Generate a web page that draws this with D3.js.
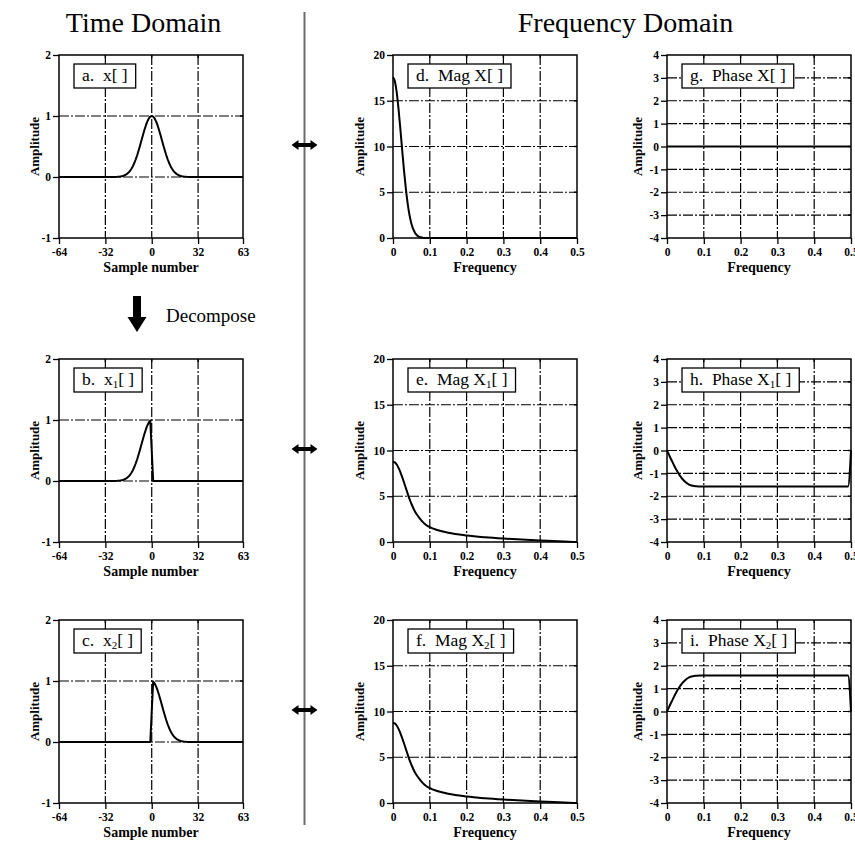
<!DOCTYPE html>
<html>
<head>
<meta charset="utf-8">
<script src="https://cdn.jsdelivr.net/npm/d3@7"></script>
<style>
  body { margin: 0; background: #fff; }
  svg { display: block; }
  text { font-family: "Liberation Serif", "Times New Roman", serif; fill: #000; }
</style>
</head>
<body>
<svg id="fig" width="855" height="853"></svg>
<script>
// ---- time domain: sample indices and signals (zero outside the listed support) ----
const sampleN = [-64,
  -25, -24, -23, -22, -21, -20, -19, -18, -17, -16, -15, -14, -13, -12, -11, -10, -9, -8, -7, -6, -5, -4, -3, -2, -1,
  0,
  1, 2, 3, 4, 5, 6, 7, 8, 9, 10, 11, 12, 13, 14, 15, 16, 17, 18, 19, 20, 21, 22, 23, 24, 25,
  63];

const xSignal = [0,
  0.002, 0.003, 0.005, 0.007, 0.011, 0.017, 0.025, 0.037, 0.052, 0.073, 0.101, 0.135, 0.178, 0.230, 0.291, 0.360, 0.438, 0.520, 0.607, 0.693, 0.775, 0.849, 0.912, 0.960, 0.990,
  1,
  0.990, 0.960, 0.912, 0.849, 0.775, 0.693, 0.607, 0.520, 0.438, 0.360, 0.291, 0.230, 0.178, 0.135, 0.101, 0.073, 0.052, 0.037, 0.025, 0.017, 0.011, 0.007, 0.005, 0.003, 0.002,
  0];

const x1Signal = [0,
  0.002, 0.003, 0.005, 0.007, 0.011, 0.017, 0.025, 0.037, 0.052, 0.073, 0.101, 0.135, 0.178, 0.230, 0.291, 0.360, 0.438, 0.520, 0.607, 0.693, 0.775, 0.849, 0.912, 0.960, 0.990,
  0.5,
  0, 0, 0, 0, 0, 0, 0, 0, 0, 0, 0, 0, 0, 0, 0, 0, 0, 0, 0, 0, 0, 0, 0, 0, 0,
  0];

const x2Signal = [0,
  0, 0, 0, 0, 0, 0, 0, 0, 0, 0, 0, 0, 0, 0, 0, 0, 0, 0, 0, 0, 0, 0, 0, 0, 0,
  0.5,
  0.990, 0.960, 0.912, 0.849, 0.775, 0.693, 0.607, 0.520, 0.438, 0.360, 0.291, 0.230, 0.178, 0.135, 0.101, 0.073, 0.052, 0.037, 0.025, 0.017, 0.011, 0.007, 0.005, 0.003, 0.002,
  0];

// ---- frequency domain: magnitude and phase ----
const freq = [0, 0.005, 0.01, 0.015, 0.02, 0.025, 0.03, 0.035, 0.04, 0.045, 0.05, 0.06, 0.07, 0.08, 0.09,
  0.1, 0.12, 0.15, 0.2, 0.25, 0.3, 0.35, 0.4, 0.45, 0.492, 0.5];

const magX = [17.55, 17.13, 15.93, 14.11, 11.92, 9.59, 7.35, 5.37, 3.73, 2.47, 1.56, 0.54, 0.15, 0.04, 0.01,
  0, 0, 0, 0, 0, 0, 0, 0, 0, 0, 0];
const magX1 = [8.78, 8.70, 8.47, 8.10, 7.64, 7.09, 6.50, 5.89, 5.28, 4.68, 4.18, 3.31, 2.72, 2.22, 1.85,
  1.62, 1.31, 1.00, 0.70, 0.51, 0.37, 0.26, 0.16, 0.08, 0.01, 0];
const magX2 = [8.78, 8.70, 8.47, 8.10, 7.64, 7.09, 6.50, 5.89, 5.28, 4.68, 4.18, 3.31, 2.72, 2.22, 1.85,
  1.62, 1.31, 1.00, 0.70, 0.51, 0.37, 0.26, 0.16, 0.08, 0.01, 0];

const phaseX = [0, 0, 0, 0, 0, 0, 0, 0, 0, 0, 0, 0, 0, 0, 0,
  0, 0, 0, 0, 0, 0, 0, 0, 0, 0, 0];
const phaseX1 = [0, -0.17, -0.35, -0.51, -0.68, -0.83, -0.97, -1.10, -1.21, -1.30, -1.38, -1.49, -1.54, -1.56, -1.57,
  -1.57, -1.57, -1.57, -1.57, -1.57, -1.57, -1.57, -1.57, -1.57, -1.57, 0];
const phaseX2 = [0, 0.17, 0.35, 0.51, 0.68, 0.83, 0.97, 1.10, 1.21, 1.30, 1.38, 1.49, 1.54, 1.56, 1.57,
  1.57, 1.57, 1.57, 1.57, 1.57, 1.57, 1.57, 1.57, 1.57, 1.57, 0];

// ---- tick values ----
const timeTicksX = [-64, -32, 0, 32, 63];
const timeTicksY = [-1, 0, 1, 2];
const freqTicksX = [0, 0.1, 0.2, 0.3, 0.4, 0.5];
const magTicksY = [0, 5, 10, 15, 20];
const phaseTicksY = [-4, -3, -2, -1, 0, 1, 2, 3, 4];

// ---- layout ----
const W = 184, H = 183;
const colLeft = [59, 393, 667];
const rowTop = [55, 359, 620];
const ylabelOffset = [20, 29, 25];

const svg = d3.select("#fig");

const kinds = {
  time:  { x: d3.scaleLinear().domain([-64, 63]).range([0, W]), xt: timeTicksX,
           y: d3.scaleLinear().domain([-1, 2]).range([H, 0]), yt: timeTicksY,
           xfmt: d => String(d), xlabel: "Sample number", curve: d3.curveLinear },
  mag:   { x: d3.scaleLinear().domain([0, 0.5]).range([0, W]), xt: freqTicksX,
           y: d3.scaleLinear().domain([0, 20]).range([H, 0]), yt: magTicksY,
           xfmt: d => d === 0 ? "0" : d.toFixed(1), xlabel: "Frequency", curve: d3.curveMonotoneX },
  phase: { x: d3.scaleLinear().domain([0, 0.5]).range([0, W]), xt: freqTicksX,
           y: d3.scaleLinear().domain([-4, 4]).range([H, 0]), yt: phaseTicksY,
           xfmt: d => d === 0 ? "0" : d.toFixed(1), xlabel: "Frequency", curve: d3.curveMonotoneX }
};

const panels = [
  { col: 0, row: 0, kind: "time",  xs: sampleN, ys: xSignal,  label: [["a.  x"], ["[ ]"]] },
  { col: 0, row: 1, kind: "time",  xs: sampleN, ys: x1Signal, label: [["b.  x"], ["1", true], ["[ ]"]] },
  { col: 0, row: 2, kind: "time",  xs: sampleN, ys: x2Signal, label: [["c.  x"], ["2", true], ["[ ]"]] },
  { col: 1, row: 0, kind: "mag",   xs: freq, ys: magX,    label: [["d.  Mag X"], ["[ ]"]] },
  { col: 1, row: 1, kind: "mag",   xs: freq, ys: magX1,   label: [["e.  Mag X"], ["1", true], ["[ ]"]] },
  { col: 1, row: 2, kind: "mag",   xs: freq, ys: magX2,   label: [["f.  Mag X"], ["2", true], ["[ ]"]] },
  { col: 2, row: 0, kind: "phase", xs: freq, ys: phaseX,  label: [["g.  Phase X"], ["[ ]"]] },
  { col: 2, row: 1, kind: "phase", xs: freq, ys: phaseX1, label: [["h.  Phase X"], ["1", true], ["[ ]"]] },
  { col: 2, row: 2, kind: "phase", xs: freq, ys: phaseX2, label: [["i.  Phase X"], ["2", true], ["[ ]"]] }
];

function drawPanel(p) {
  const k = kinds[p.kind];
  const left = colLeft[p.col], top = rowTop[p.row];
  const g = svg.append("g").attr("transform", `translate(${left},${top})`);

  // dashed grid at interior ticks
  const gx = k.xt.slice(1, -1), gy = k.yt.slice(1, -1);
  const grid = g.append("g").attr("stroke", "#000").attr("stroke-width", 1.2)
    .attr("stroke-dasharray", "10,2,2,2").attr("fill", "none");
  grid.selectAll("line.v").data(gx).join("line").attr("class", "v")
    .attr("x1", d => k.x(d)).attr("x2", d => k.x(d)).attr("y1", 0).attr("y2", H);
  grid.selectAll("line.h").data(gy).join("line").attr("class", "h")
    .attr("x1", 0).attr("x2", W).attr("y1", d => k.y(d)).attr("y2", d => k.y(d));

  // short inward ticks on the top and right borders
  const inner = g.append("g").attr("stroke", "#000").attr("stroke-width", 1.4);
  inner.selectAll("line.r").data(gy).join("line").attr("class", "r")
    .attr("x1", W - 3).attr("x2", W).attr("y1", d => k.y(d)).attr("y2", d => k.y(d));
  inner.selectAll("line.t").data(gx).join("line").attr("class", "t")
    .attr("x1", d => k.x(d)).attr("x2", d => k.x(d)).attr("y1", 0).attr("y2", 3);

  // data curve
  const pts = p.xs.map((v, i) => [v, p.ys[i]]);
  g.append("path").datum(pts)
    .attr("fill", "none").attr("stroke", "#000").attr("stroke-width", 2)
    .attr("stroke-linejoin", "round")
    .attr("d", d3.line().x(d => k.x(d[0])).y(d => k.y(d[1])).curve(k.curve));

  // axes
  const ax = g.append("g").attr("transform", `translate(0,${H})`)
    .call(d3.axisBottom(k.x).tickValues(k.xt).tickFormat(k.xfmt).tickSize(6).tickPadding(4));
  const ay = g.append("g")
    .call(d3.axisLeft(k.y).tickValues(k.yt).tickFormat(d => String(d)).tickSize(6).tickPadding(2));
  [ax, ay].forEach(a => {
    a.select(".domain").remove();
    a.selectAll(".tick line").attr("stroke", "#000").attr("stroke-width", 1.3);
    a.selectAll(".tick text").attr("fill", "#000")
      .style("font-family", '"Liberation Serif", serif').style("font-weight", "bold").style("font-size", "11.5px");
  });

  // frame
  g.append("rect").attr("x", 0).attr("y", 0).attr("width", W).attr("height", H)
    .attr("fill", "none").attr("stroke", "#000").attr("stroke-width", 1.5);

  // axis titles
  g.append("text").attr("x", W / 2).attr("y", H + 34).attr("text-anchor", "middle")
    .style("font-weight", "bold").style("font-size", "14px").text(k.xlabel);
  g.append("text").attr("transform", `translate(${-ylabelOffset[p.col]},${H / 2}) rotate(-90)`)
    .attr("text-anchor", "middle").style("font-weight", "bold").style("font-size", "13px").text("Amplitude");

  // boxed panel label
  const lb = g.append("g");
  const rect = lb.append("rect");
  const t = lb.append("text").attr("x", 23).attr("y", 25.5)
    .attr("xml:space", "preserve").style("white-space", "pre").style("font-size", "17.5px");
  let shifted = false;
  p.label.forEach(([s, sub]) => {
    const ts = t.append("tspan").text(s);
    if (sub) { ts.attr("dy", 3.5).style("font-size", "11px"); shifted = true; }
    else if (shifted) { ts.attr("dy", -3.5); shifted = false; }
  });
  const bb = t.node().getBBox();
  rect.attr("x", 15).attr("y", 9).attr("width", bb.width + 16).attr("height", 24)
    .attr("fill", "#fff").attr("stroke", "#000").attr("stroke-width", 1.3);
}

panels.forEach(drawPanel);

// headings
svg.append("text").attr("x", 143.5).attr("y", 32).attr("text-anchor", "middle")
  .style("font-size", "28px").text("Time Domain");
svg.append("text").attr("x", 625.5).attr("y", 32).attr("text-anchor", "middle")
  .style("font-size", "28px").text("Frequency Domain");

// divider between domains
svg.append("line").attr("x1", 304.5).attr("x2", 304.5).attr("y1", 12).attr("y2", 825)
  .attr("stroke", "#6a6a6a").attr("stroke-width", 2);

// double-headed arrows linking each signal to its spectrum
rowTop.forEach(top => {
  const cx = 304.5, cy = top + H / 2 - 1.5;
  const d = `M${cx - 13},${cy} L${cx - 6},${cy - 5} L${cx - 6},${cy - 2} L${cx + 6},${cy - 2} L${cx + 6},${cy - 5}
             L${cx + 13},${cy} L${cx + 6},${cy + 5} L${cx + 6},${cy + 2} L${cx - 6},${cy + 2} L${cx - 6},${cy + 5} Z`;
  svg.append("path").attr("d", d).attr("fill", "#000");
});

// decompose arrow and caption
svg.append("path")
  .attr("d", "M133,296 L141,296 L141,317 L146.5,317 L137,332 L127.5,317 L133,317 Z")
  .attr("fill", "#000");
svg.append("text").attr("x", 166).attr("y", 322).style("font-size", "19px").text("Decompose");
</script>
</body>
</html>
